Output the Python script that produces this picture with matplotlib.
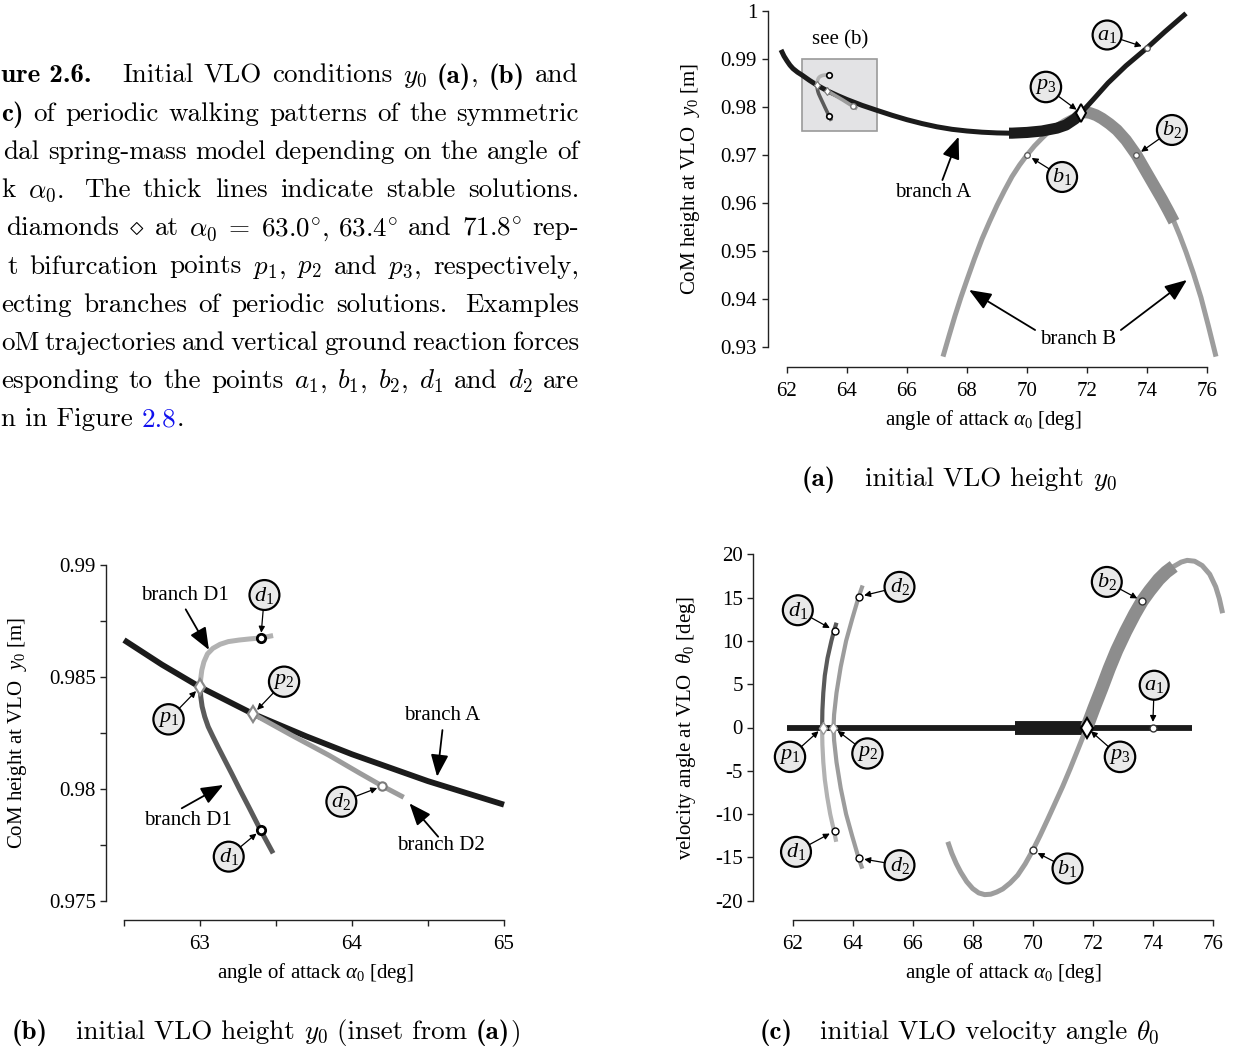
import matplotlib
matplotlib.use("Agg")
import matplotlib.pyplot as plt
from matplotlib.patches import Rectangle
import numpy as np

plt.rcParams.update({
    "font.family": "Liberation Serif",
    "mathtext.fontset": "custom",
    "mathtext.rm": "Liberation Serif",
    "mathtext.it": "Liberation Serif:italic",
    "mathtext.bf": "Liberation Serif:bold",
    "axes.unicode_minus": False,
})

# ---------------- data ----------------
# branch A (symmetric solutions, theta0 = 0)
alpha_A = [61.8, 61.9, 62.0, 62.1, 62.2, 62.35, 62.5, 62.75, 63.0, 63.35, 63.7, 64.0,
           64.5, 65.0, 65.5, 66.0, 66.5, 67.0, 67.5, 68.0, 68.5, 69.0, 69.4, 69.5,
           70.0, 70.5, 71.0, 71.3, 71.6, 71.8, 72.2, 72.7, 73.3, 74.0, 74.6, 75.3]
y0_A = [0.9919, 0.9906, 0.9896, 0.9887, 0.9880, 0.98725, 0.98665, 0.98555, 0.98455,
        0.98335, 0.98235, 0.98155, 0.98035, 0.97930, 0.97828, 0.97735, 0.97655,
        0.97587, 0.97535, 0.97500, 0.97475, 0.97460, 0.97455, 0.97455, 0.97470,
        0.97500, 0.97560, 0.97625, 0.97750, 0.97875, 0.98150, 0.98500, 0.98860,
        0.99230, 0.99570, 0.99950]
theta_A = [0.0] * len(alpha_A)

# branch B, initial height
alpha_By = [67.2, 67.4, 67.6, 67.8, 68.0, 68.25, 68.5, 68.75, 69.0, 69.25, 69.5, 69.75,
            70.0, 70.25, 70.5, 70.75, 71.0, 71.25, 71.5, 71.8, 71.95, 72.1, 72.3, 72.5,
            72.75, 73.0, 73.3, 73.65, 74.0, 74.25, 74.5, 74.7, 74.9, 75.1, 75.3, 75.55,
            75.8, 76.05, 76.3]
y0_B = [0.9280, 0.9323, 0.9365, 0.9404, 0.9440, 0.9484, 0.9525, 0.9561, 0.9595, 0.9626,
        0.9655, 0.9679, 0.9700, 0.9719, 0.9735, 0.9750, 0.9762, 0.9772, 0.9780, 0.97875,
        0.9789, 0.97875, 0.9783, 0.9776, 0.9765, 0.9752, 0.9731, 0.9700, 0.9662, 0.9635,
        0.9608, 0.9585, 0.9561, 0.9531, 0.9498, 0.9453, 0.9403, 0.9343, 0.9280]
# branch B, velocity angle
alpha_Bt = [67.17, 67.3, 67.45, 67.6, 67.8, 68.0, 68.2, 68.4, 68.6, 68.8, 69.0, 69.25,
            69.5, 69.75, 70.0, 70.25, 70.5, 70.75, 71.0, 71.25, 71.5, 71.8, 72.05, 72.3,
            72.55, 72.8, 73.1, 73.4, 73.65, 73.9, 74.2, 74.45, 74.7, 74.95, 75.15, 75.4,
            75.65, 75.9, 76.1, 76.22, 76.33]
theta_B = [-13.2, -14.5, -15.7, -16.7, -17.8, -18.6, -19.1, -19.3, -19.25, -19.0, -18.65,
           -17.95, -17.05, -15.75, -14.2, -12.45, -10.6, -8.7, -6.8, -4.75, -2.6, 0.0,
           2.3, 4.5, 6.8, 8.9, 11.1, 13.1, 14.6, 15.8, 17.1, 17.95, 18.6, 19.1, 19.3,
           19.2, 18.7, 17.7, 16.25, 14.9, 13.2]

# branch D1 (upper / lower half) and D2, initial height
alpha_D1_up = [63.0, 63.005, 63.012, 63.026, 63.049, 63.085, 63.132, 63.186, 63.257,
               63.327, 63.398, 63.481]
y0_D1_up = [0.98457, 0.98494, 0.98531, 0.98568, 0.98603, 0.98628, 0.98646, 0.98658,
            0.98665, 0.98670, 0.98674, 0.98685]
alpha_D1_lo = [63.0, 63.005, 63.014, 63.031, 63.054, 63.085, 63.120, 63.163, 63.210,
               63.261, 63.320, 63.398, 63.481]
y0_D1_lo = [0.98457, 0.98412, 0.98368, 0.98323, 0.98278, 0.98234, 0.98186, 0.98129,
            0.98067, 0.97998, 0.97921, 0.97817, 0.97713]
alpha_D2 = [63.35, 63.6, 63.85, 64.05, 64.2, 64.34]
y0_D2 = [0.98335, 0.98241, 0.98150, 0.98071, 0.98013, 0.97963]

# branch D1 / D2, velocity angle
theta_D1_pos = [0.0, 2.0, 4.0, 6.0, 8.0, 10.0, 11.2, 12.1]
alpha_D1_pos = [62.98, 62.99, 63.02, 63.07, 63.16, 63.29, 63.38, 63.46]
theta_D1_neg = [0.0, -2.0, -4.0, -6.0, -8.0, -10.0, -12.0, -13.2]
alpha_D1_neg = [62.98, 62.99, 63.02, 63.07, 63.15, 63.25, 63.38, 63.45]
theta_D2 = [16.4, 15.1, 12.5, 10.0, 7.0, 4.0, 1.5, 0.0, -1.5, -4.0, -7.0, -10.0,
            -12.5, -15.1, -16.3]
alpha_D2t = [64.33, 64.2, 63.98, 63.78, 63.6, 63.46, 63.38, 63.36, 63.38, 63.46,
             63.6, 63.78, 63.98, 64.2, 64.32]

# stable ranges (thick lines)
stable_A = (69.4, 71.8)
stable_B = (71.8, 74.9)

# special points
p_alpha = [63.0, 63.35, 71.8]
p_y0 = [0.98455, 0.98335, 0.97875]
p_theta = [0.0, 0.0, 0.0]
d1_alpha = [63.4, 63.4]
d1_y0 = [0.98673, 0.97817]
d1_theta = [-11.94, 11.17]
d2_alpha = [64.2, 64.2]
d2_y0 = [0.98013, 0.98013]
d2_theta = [15.1, -15.1]
a1 = (74.0, 0.9923, 0.0)
b1 = (70.0, 0.9700, -14.2)
b2 = (73.65, 0.9700, 14.6)

inset_alpha = (62.5, 65.0)
inset_y0 = (0.975, 0.990)

# ticks
xticks_a = [62, 64, 66, 68, 70, 72, 74, 76]
yticks_a = [0.93, 0.94, 0.95, 0.96, 0.97, 0.98, 0.99, 1.0]
ylabels_a = ["0.93", "0.94", "0.95", "0.96", "0.97", "0.98", "0.99", "1"]
xticks_b = [63, 64, 65]
xminor_b = [62.5, 63.5, 64.5]
yticks_b = [0.975, 0.98, 0.985, 0.99]
ylabels_b = ["0.975", "0.98", "0.985", "0.99"]
yminor_b = [0.9775, 0.9825, 0.9875]
xticks_c = [62, 64, 66, 68, 70, 72, 74, 76]
yticks_c = [-20, -15, -10, -5, 0, 5, 10, 15, 20]

# ---------------- styling ----------------
BLACK = "#1b1b1b"
DARK = "#5a5a5a"
MID = "#9c9c9c"
LIGHT = "#b2b2b2"
B_THIN = "#9d9d9d"
B_THICK = "#8d8d8d"
FS = 15

W, H = 1241, 1050
fig = plt.figure(figsize=(W / 100, H / 100), dpi=100)
renderer = fig.canvas.get_renderer()

# full-figure axes in pixel units for captions and labels
cap = fig.add_axes([0, 0, 1, 1])
cap.set_xlim(0, W)
cap.set_ylim(H, 0)
cap.axis("off")


def make_axes(cal_x, cal_y, xlim, ylim):
    def px(v, c):
        d0, p0, d1, p1 = c
        return p0 + (v - d0) * (p1 - p0) / (d1 - d0)
    left, right = px(xlim[0], cal_x), px(xlim[1], cal_x)
    top, bottom = px(ylim[1], cal_y), px(ylim[0], cal_y)
    ax = fig.add_axes([left / W, 1 - bottom / H, (right - left) / W, (bottom - top) / H])
    ax.set_xlim(xlim)
    ax.set_ylim(ylim)
    ax.patch.set_visible(False)
    ax.spines["top"].set_visible(False)
    ax.spines["right"].set_visible(False)
    for s in ("left", "bottom"):
        ax.spines[s].set_linewidth(1.0)
        ax.spines[s].set_color("#222222")
    ax.tick_params(which="both", direction="out", length=4.5, width=1.0,
                   color="#222222", labelsize=FS, pad=3)
    ax.tick_params(axis="x", which="both", pad=6)
    return ax


def place_labels(ax, xl, yl, xpos, ypos):
    ax.set_xlabel(xl, fontsize=FS)
    ax.set_ylabel(yl, fontsize=FS)
    ax.xaxis.set_label_coords(*xpos, transform=cap.transData)
    ax.yaxis.set_label_coords(*ypos, transform=cap.transData)
    ax.xaxis.label.set_va("center")
    ax.yaxis.label.set_va("center")


def badge(ax, label, xy, xytext):
    ax.annotate(label, xy=xy, xytext=xytext, ha="center", va="center", fontsize=16,
                bbox=dict(boxstyle="circle,pad=0.2", fc="#e9e9e9", ec="k", lw=1.6),
                arrowprops=dict(arrowstyle="-|>", color="k", lw=0.9, shrinkA=0,
                                shrinkB=4, mutation_scale=9),
                zorder=12)


def big_arrow(ax, tail, tip):
    ax.annotate("", xy=tip, xytext=tail,
                arrowprops=dict(arrowstyle="-|>,head_length=0.75,head_width=0.3",
                                color="k", lw=1.3, mutation_scale=18,
                                shrinkA=0, shrinkB=0), zorder=11)


def part(xs, ys, lo, hi):
    xs = np.asarray(xs)
    ys = np.asarray(ys)
    m = (xs >= lo) & (xs <= hi)
    return xs[m], ys[m]


# ---------------- panel (a) ----------------
ax_a = make_axes((62, 787, 76, 1207), (1.0, 11, 0.93, 347), (61.35, 76.6), (0.92583, 1.0015))
ax_a.spines["left"].set_bounds(0.93, 1.0)
ax_a.spines["bottom"].set_bounds(62, 76)
ax_a.set_xticks(xticks_a)
ax_a.set_xticklabels([str(t) for t in xticks_a])
ax_a.set_yticks(yticks_a)
ax_a.set_yticklabels(ylabels_a)

ax_a.add_patch(Rectangle((inset_alpha[0], inset_y0[0]), inset_alpha[1] - inset_alpha[0],
                         inset_y0[1] - inset_y0[0], fc="#e3e3e5", ec="#9a9a9a",
                         lw=1.2, zorder=1))
ax_a.plot(alpha_By, y0_B, color=B_THIN, lw=3.6, solid_capstyle="butt", zorder=3)
ax_a.plot(*part(alpha_By, y0_B, *stable_B), color=B_THICK, lw=8.5,
          solid_capstyle="butt", zorder=3)
ax_a.plot(alpha_A, y0_A, color=BLACK, lw=3.6, solid_capstyle="butt", zorder=4)
ax_a.plot(*part(alpha_A, y0_A, *stable_A), color=BLACK, lw=8, solid_capstyle="butt", zorder=4)
ax_a.plot(alpha_D1_up, y0_D1_up, color=LIGHT, lw=2.6, solid_capstyle="butt", zorder=5)
ax_a.plot(alpha_D1_lo, y0_D1_lo, color=DARK, lw=2.6, solid_capstyle="butt", zorder=5)
ax_a.plot(alpha_D2, y0_D2, color=MID, lw=2.6, solid_capstyle="butt", zorder=5)
ax_a.plot(p_alpha[:2], p_y0[:2], "d", ms=4.5, mfc="white", mec="#777777", mew=0.8, zorder=6)
ax_a.plot(p_alpha[2], p_y0[2], "d", ms=9, mfc="white", mec="k", mew=1.4, zorder=6)
ax_a.plot(d1_alpha, d1_y0, "o", ms=4, mfc="white", mec="k", mew=1.2, zorder=6)
ax_a.plot(d2_alpha[0], d2_y0[0], "o", ms=4, mfc="white", mec="#777777", mew=1.0, zorder=6)
ax_a.plot([a1[0], b1[0], b2[0]], [a1[1], b1[1], b2[1]], "o", ms=4, mfc="white",
          mec="#555555", mew=0.9, zorder=6)

badge(ax_a, r"$a_1$", a1[:2], (72.67, 0.9950))
badge(ax_a, r"$p_3$", (p_alpha[2], p_y0[2]), (70.63, 0.98417))
badge(ax_a, r"$b_2$", b2[:2], (74.83, 0.97521))
badge(ax_a, r"$b_1$", b1[:2], (71.17, 0.96542))
ax_a.text(63.77, 0.99396, "see (b)", ha="center", va="center", fontsize=FS)
ax_a.text(66.87, 0.96229, "branch A", ha="center", va="center", fontsize=FS)
big_arrow(ax_a, (67.18, 0.96479), (67.72, 0.97381))
ax_a.text(71.7, 0.93146, "branch B", ha="center", va="center", fontsize=FS)
big_arrow(ax_a, (70.27, 0.93354), (68.07, 0.94188))
big_arrow(ax_a, (73.13, 0.93354), (75.33, 0.94396))
place_labels(ax_a, r"angle of attack $\alpha_0$ [deg]", r"CoM height at VLO  $y_0$ [m]",
             (983, 420), (690, 179))

# ---------------- panel (b) ----------------
ax_b = make_axes((63, 200, 65, 504), (0.99, 565, 0.975, 901), (62.383, 65.1), (0.97415, 0.9905))
ax_b.spines["left"].set_bounds(0.975, 0.99)
ax_b.spines["bottom"].set_bounds(62.5, 65)
ax_b.set_xticks(xticks_b)
ax_b.set_xticklabels([str(t) for t in xticks_b])
ax_b.set_xticks(xminor_b, minor=True)
ax_b.set_yticks(yticks_b)
ax_b.set_yticklabels(ylabels_b)
ax_b.set_yticks(yminor_b, minor=True)

ax_b.plot(*part(alpha_A, y0_A, *inset_alpha), color=BLACK, lw=4.2, solid_capstyle="butt", zorder=3)
ax_b.plot(alpha_D1_up, y0_D1_up, color=LIGHT, lw=3.6, solid_capstyle="butt", zorder=4)
ax_b.plot(alpha_D1_lo, y0_D1_lo, color=DARK, lw=3.6, solid_capstyle="butt", zorder=4)
ax_b.plot(alpha_D2, y0_D2, color=MID, lw=3.6, solid_capstyle="butt", zorder=4)
ax_b.plot(p_alpha[:2], p_y0[:2], "d", ms=8, mfc="white", mec="#888888", mew=1.6, zorder=6)
ax_b.plot(d1_alpha, d1_y0, "o", ms=6, mfc="white", mec="k", mew=2.0, zorder=6)
ax_b.plot(d2_alpha[0], d2_y0[0], "o", ms=6, mfc="white", mec="#7a7a7a", mew=1.5, zorder=6)

badge(ax_b, r"$d_1$", (d1_alpha[0], d1_y0[0]), (63.424, 0.98866))
badge(ax_b, r"$p_2$", (p_alpha[1], p_y0[1]), (63.553, 0.98479))
badge(ax_b, r"$p_1$", (p_alpha[0], p_y0[0]), (62.793, 0.98311))
badge(ax_b, r"$d_1$", (d1_alpha[1], d1_y0[1]), (63.189, 0.97698))
badge(ax_b, r"$d_2$", (d2_alpha[0], d2_y0[0]), (63.93, 0.97943))
ax_b.text(62.90, 0.98866, "branch D1", ha="center", va="center", fontsize=FS)
big_arrow(ax_b, (62.906, 0.98802), (63.059, 0.98621))
ax_b.text(64.595, 0.98327, "branch A", ha="center", va="center", fontsize=FS)
big_arrow(ax_b, (64.595, 0.98263), (64.56, 0.98055))
ax_b.text(62.922, 0.97859, "branch D1", ha="center", va="center", fontsize=FS)
big_arrow(ax_b, (62.88, 0.97914), (63.153, 0.98018))
ax_b.text(64.583, 0.97746, "branch D2", ha="center", va="center", fontsize=FS)
big_arrow(ax_b, (64.567, 0.97787), (64.378, 0.97936))
place_labels(ax_b, r"angle of attack $\alpha_0$ [deg]", r"CoM height at VLO  $y_0$ [m]",
             (315, 973), (18, 733))

# ---------------- panel (c) ----------------
ax_c = make_axes((62, 792.7, 76, 1212.7), (20, 554.3, -20, 900.7), (60.687, 76.6), (-22.23, 20.5))
ax_c.spines["left"].set_bounds(-20, 20)
ax_c.spines["bottom"].set_bounds(62, 76)
ax_c.set_xticks(xticks_c)
ax_c.set_xticklabels([str(t) for t in xticks_c])
ax_c.set_yticks(yticks_c)
ax_c.set_yticklabels([str(t) for t in yticks_c])

ax_c.plot(alpha_A, theta_A, color=BLACK, lw=4.2, solid_capstyle="butt", zorder=3)
ax_c.plot(*part(alpha_A, theta_A, *stable_A), color=BLACK, lw=10, solid_capstyle="butt", zorder=3)
ax_c.plot(alpha_Bt, theta_B, color=B_THIN, lw=3.6, solid_capstyle="butt", zorder=4)
ax_c.plot(*part(alpha_Bt, theta_B, *stable_B), color=B_THICK, lw=9.5,
          solid_capstyle="butt", zorder=4)
ax_c.plot(alpha_D1_pos, theta_D1_pos, color=DARK, lw=3.0, solid_capstyle="butt", zorder=4)
ax_c.plot(alpha_D1_neg, theta_D1_neg, color=LIGHT, lw=3.0, solid_capstyle="butt", zorder=4)
ax_c.plot(alpha_D2t, theta_D2, color=MID, lw=3.0, solid_capstyle="butt", zorder=4)
ax_c.plot(p_alpha[:2], p_theta[:2], "d", ms=6, mfc="white", mec="#999999", mew=1.0, zorder=6)
ax_c.plot(p_alpha[2], p_theta[2], "d", ms=10, mfc="white", mec="k", mew=1.5, zorder=6)
ax_c.plot(d1_alpha, d1_theta, "o", ms=5, mfc="white", mec="k", mew=1.0, zorder=6)
ax_c.plot(d2_alpha, d2_theta, "o", ms=5, mfc="white", mec="k", mew=1.0, zorder=6)
ax_c.plot([a1[0], b1[0], b2[0]], [a1[2], b1[2], b2[2]], "o", ms=5, mfc="white",
          mec="#333333", mew=1.0, zorder=6)

badge(ax_c, r"$d_2$", (d2_alpha[0], d2_theta[0]), (65.56, 16.24))
badge(ax_c, r"$d_1$", (d1_alpha[1], d1_theta[1]), (62.17, 13.54))
badge(ax_c, r"$b_2$", (b2[0], b2[2]), (72.47, 16.81))
badge(ax_c, r"$a_1$", (a1[0], a1[2]), (74.05, 4.88))
badge(ax_c, r"$p_1$", (p_alpha[0], p_theta[0]), (61.91, -3.39))
badge(ax_c, r"$p_2$", (p_alpha[1], p_theta[1]), (64.49, -3.0))
badge(ax_c, r"$p_3$", (p_alpha[2], p_theta[2]), (72.91, -3.39))
badge(ax_c, r"$d_1$", (d1_alpha[0], d1_theta[0]), (62.11, -14.36))
badge(ax_c, r"$d_2$", (d2_alpha[1], d2_theta[1]), (65.56, -15.9))
badge(ax_c, r"$b_1$", (b1[0], b1[2]), (71.16, -16.28))
place_labels(ax_c, r"angle of attack $\alpha_0$ [deg]",
             r"velocity angle at VLO  $\theta_0$ [deg]", (1003, 973), (686, 728))

# ---------------- caption text (visible part of the page) ----------------
CFS = 19.5
RM = dict(family="cmr10", math_fontfamily="cm", fontsize=CFS, color="black")
BF = dict(family="cmb10", math_fontfamily="cm", fontsize=CFS, color="black")
BLUE = dict(RM, color="#1010ee")
SPACE = 9


def width(t):
    return t.get_window_extent(renderer).width


def run(x, y, pieces):
    # pieces placed left to right on one baseline: (text, style, gap before in px)
    for s, st, gap in pieces:
        x += gap
        t = cap.text(x, y, s, ha="left", va="baseline", **st)
        x += width(t)
    return x


def justify(y, left, right, words):
    groups = []
    for w in words:
        pieces = [(w, RM)] if isinstance(w, str) else w
        ts = [cap.text(0, y, s, ha="left", va="baseline", **st) for s, st in pieces]
        groups.append((ts, [width(t) for t in ts], pieces[-1][0]))
    total = sum(sum(ws) for _, ws, _ in groups)
    weights = [1.6 if g[2].endswith(".") else 1.0 for g in groups[:-1]]
    unit = (right - left - total) / sum(weights)
    x = left
    for i, (ts, ws, _) in enumerate(groups):
        for t, w in zip(ts, ws):
            t.set_x(x)
            x += w
        if i < len(weights):
            x += unit * weights[i]


y_line = [82.5 + 38.2 * i for i in range(10)]
R = 579
run(1, y_line[0], [("ure 2.6.", BF, 0)])
justify(y_line[0], 122, R, ["Initial", "VLO", "conditions", r"$y_0$",
                            [("(a)", BF), (",", RM)], [("(b)", BF)], "and"])
justify(y_line[1], 1, R, [[("c)", BF)], "of", "periodic", "walking", "patterns", "of",
                          "the", "symmetric"])
justify(y_line[2], 3, R, ["dal", "spring-mass", "model", "depending", "on", "the",
                          "angle", "of"])
justify(y_line[3], 1, R, ["k", r"$\alpha_0$.", "The", "thick", "lines", "indicate",
                          "stable", "solutions."])
justify(y_line[4], 6, R, ["diamonds", r"$\diamond$", "at",
                          r"$\alpha_0\;=\;63.0^{\circ},\,63.4^{\circ}$", "and",
                          r"$71.8^{\circ}$", "rep-"])
justify(y_line[5], 8, R, ["t", "bifurcation", "points", r"$p_1$,", r"$p_2$", "and",
                          r"$p_3$,", "respectively,"])
justify(y_line[6], 1, R, ["ecting", "branches", "of", "periodic", "solutions.",
                          "Examples"])
justify(y_line[7], 1, R, ["oM", "trajectories", "and", "vertical", "ground", "reaction",
                          "forces"])
justify(y_line[8], 1, R, ["esponding", "to", "the", "points", r"$a_1$,", r"$b_1$,",
                          r"$b_2$,", r"$d_1$", "and", r"$d_2$", "are"])
run(1, y_line[9], [("n in Figure", RM, 0), ("2.8", BLUE, SPACE), (".", RM, 0)])

# sub-figure captions
run(802, 486, [("(a)", BF, 0), ("initial VLO height", RM, 29), (r"$y_0$", RM, SPACE)])
run(12, 1039, [("(b)", BF, 0), ("initial VLO height", RM, 28), (r"$y_0$", RM, SPACE),
               ("(inset from", RM, SPACE), ("(a)", BF, SPACE), (")", RM, 0)])
run(760, 1039, [("(c)", BF, 0), ("initial VLO velocity angle", RM, 27),
                (r"$\theta_0$", RM, SPACE)])

fig.savefig("out.png", dpi=100)
